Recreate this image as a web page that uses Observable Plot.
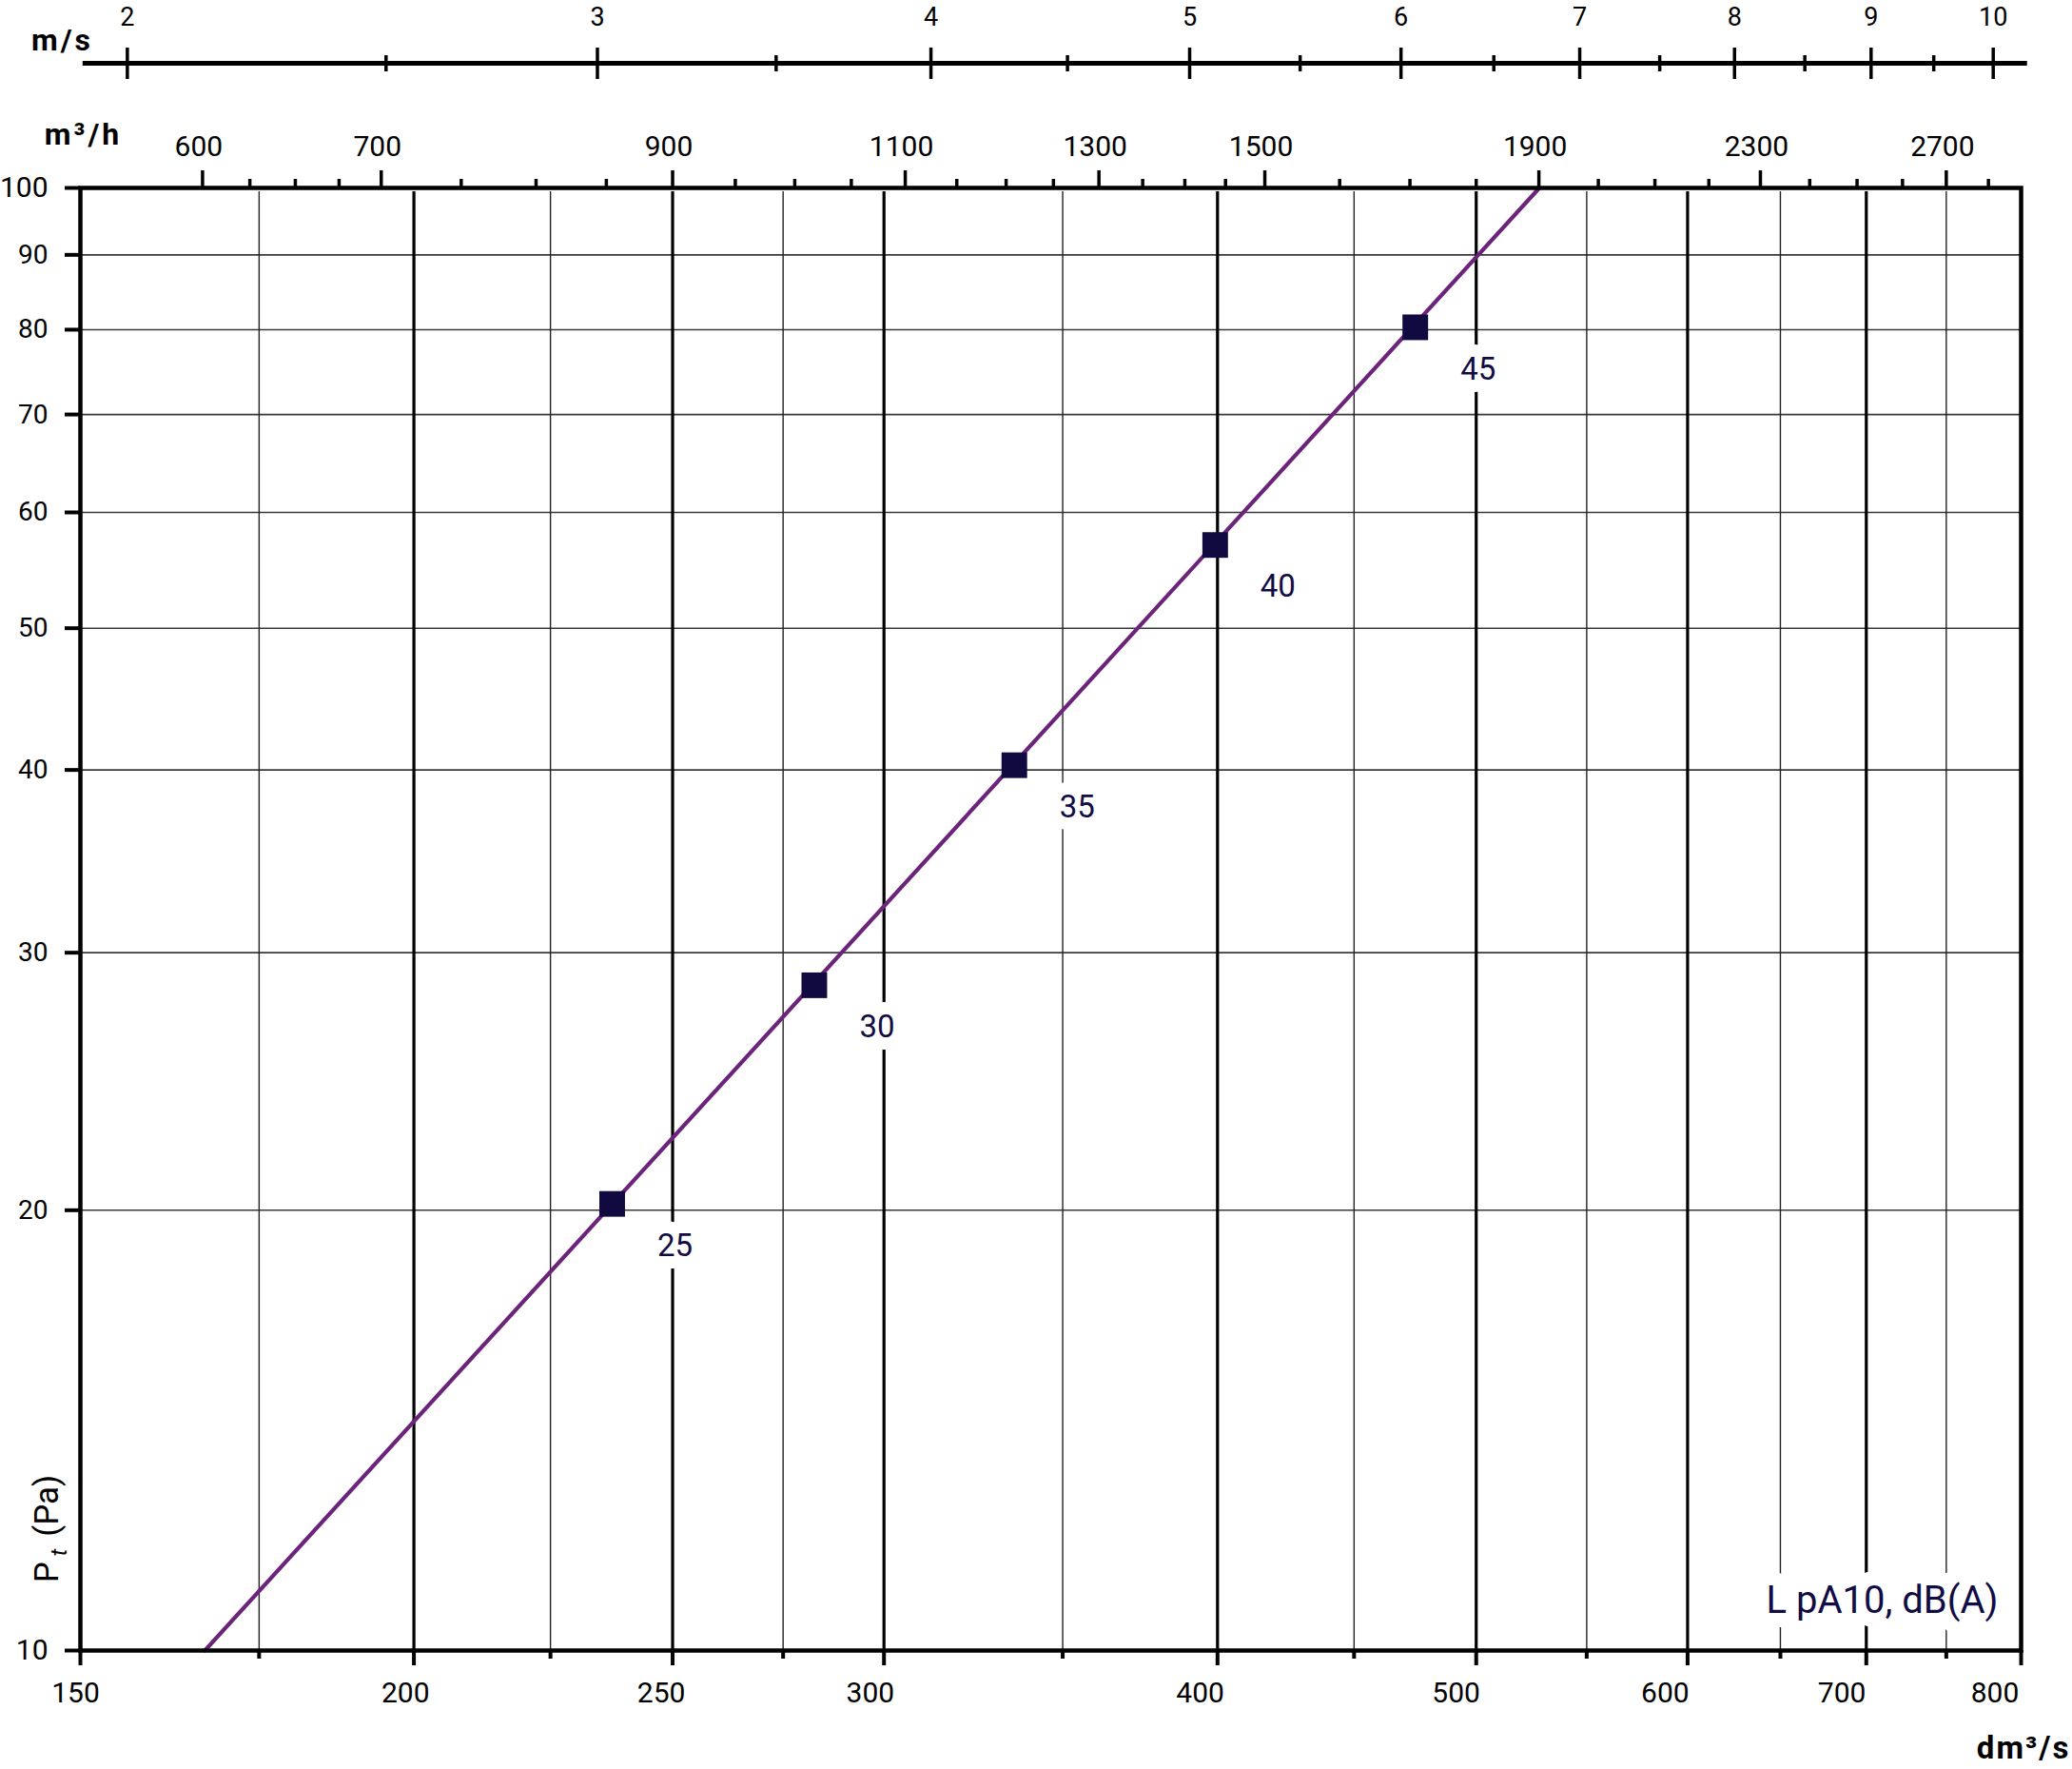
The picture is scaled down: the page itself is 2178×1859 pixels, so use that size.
<!DOCTYPE html>
<html><head><meta charset="utf-8">
<script src="https://cdn.jsdelivr.net/npm/d3@7"></script>
<script src="https://cdn.jsdelivr.net/npm/@observablehq/plot@0.6"></script>
<style>
html,body{margin:0;padding:0;background:#fff;}
#chart svg{display:block;}
</style></head><body><div id="chart"></div>
<script>
// ---- data ----
const flowTickLabels = [150, 200, 250, 300, 400, 500, 600, 700, 800];      // dm3/s
const flowThickGrid = [200, 250, 300, 400, 500, 600, 700];
const flowThinGrid = [175, 225, 275, 350, 450, 550, 650, 750];
const pressureTicks = [10, 20, 30, 40, 50, 60, 70, 80, 90, 100];          // Pa
const pressureGrid = [20, 30, 40, 50, 60, 70, 80, 90];
const velocityMajor = [2, 3, 4, 5, 6, 7, 8, 9, 10];                        // m/s
const velocityMinor = [2.5, 3.5, 4.5, 5.5, 6.5, 7.5, 8.5, 9.5];
const velocityExtent = [1.925, 10.3];
const flowPerVelocity = 78.1;                                              // dm3/s per m/s
const m3hMajor = [600, 700, 900, 1100, 1300, 1500, 1900, 2300, 2700];      // m3/h
const m3hMinor = [625, 650, 675, 750, 800, 850, 950, 1000, 1050, 1150, 1200, 1250,
                  1350, 1400, 1450, 1600, 1700, 1800, 2000, 2100, 2200, 2400, 2500, 2600, 2800];
const curveFlow = [167, 528];
const curvePressure = [10, 100];
const pointFlow = [237.3, 282.5, 335.7, 399.2, 474.4];
const pointPressure = [20.2, 28.5, 40.3, 57.0, 80.3];
const pointSound = ["25", "30", "35", "40", "45"];

// ---- layout ----
const W = 2178, H = 1859;
const mL = 84, mR = 54, mT = 197, mB = 125;
const PH = H - mT - mB, PW = W - mL - mR;
const NAVY = "#120c45", PURPLE = "#6b2479";
const C = {textAnchor: "middle", lineAnchor: "middle", fill: "black"};
// the reference prints its bottom labels on a slightly compressed copy of the log scale
const labelPos = d => 150 * Math.pow(d / 150, 0.989) * Math.pow(10, -5 / 2805);

const curve = curveFlow.map((f, i) => ({f, p: curvePressure[i]}));
const pts = pointFlow.map((f, i) => ({f, p: pointPressure[i], s: pointSound[i]}));

const chart = Plot.plot({
  width: W, height: H,
  marginLeft: mL, marginRight: mR, marginTop: mT, marginBottom: mB,
  x: {type: "log", domain: [150, 800], axis: null},
  y: {type: "log", domain: [10, 100], axis: null},
  style: {fontFamily: "Roboto, 'Noto Sans', sans-serif", background: "white", color: "black"},
  marks: [
    // grid
    Plot.ruleY(pressureGrid, {y: d => d, stroke: "#3a3a3a", strokeWidth: 1.6}),
    Plot.ruleX(flowThinGrid, {x: d => d, stroke: "#222", strokeWidth: 1.4, insetTop: 4}),
    Plot.ruleX(flowThickGrid, {x: d => d, stroke: "#000", strokeWidth: 3.2, insetTop: 4}),
    // point labels with white boxes
    Plot.text(pts, {x: "f", y: "p", text: "s", dx: 66, dy: 44, ...C, fill: NAVY, stroke: "white",
      strokeWidth: 26, paintOrder: "stroke", fontSize: 33}),
    Plot.text(["L pA10, dB(A)"], {text: d => d, frameAnchor: "bottom-right", ...C, textAnchor: "end",
      dx: -24, dy: -52, fontSize: 40, fill: NAVY, stroke: "white", strokeWidth: 30, paintOrder: "stroke"}),
    // curve and points
    Plot.line(curve, {x: "f", y: "p", stroke: PURPLE, strokeWidth: 4.2}),
    Plot.dot(pts, {x: "f", y: "p", symbol: "square", r: 15.2, fill: "#100a40", stroke: null}),
    // frame
    Plot.frame({stroke: "black", strokeWidth: 4.5}),
    // y axis
    Plot.tickY(pressureTicks, {y: d => d, insetRight: PW - 16, dx: -16, strokeWidth: 4, stroke: "black"}),
    Plot.text(pressureTicks, {y: d => d, text: d => String(d), frameAnchor: "left", ...C, dx: -34,
      textAnchor: "end", fontSize: d => (d === 10 || d === 100) ? 30 : 28}),
    // bottom axis
    Plot.tickX(flowTickLabels, {x: d => d, insetTop: PH - 16, dy: 16, strokeWidth: 4, stroke: "black"}),
    Plot.tickX(flowThinGrid, {x: d => d, insetTop: PH - 9, dy: 9, strokeWidth: 4, stroke: "black"}),
    Plot.text(flowTickLabels, {x: labelPos, text: d => String(d), frameAnchor: "bottom", ...C, dy: 45,
      fontSize: 30}),
    // m3/h axis (on frame top)
    Plot.tickX(m3hMajor, {x: d => d / 3.6, insetBottom: PH - 18, dy: -18, strokeWidth: 3.5, stroke: "black"}),
    Plot.tickX(m3hMinor, {x: d => d / 3.6, insetBottom: PH - 9, dy: -9, strokeWidth: 3.5, stroke: "black"}),
    Plot.text(m3hMajor, {x: d => d / 3.6, text: d => String(d), frameAnchor: "top", ...C, dy: -43, dx: -4,
      fontSize: 30}),
    // m/s axis
    Plot.rect([0], {x1: () => velocityExtent[0] * flowPerVelocity, x2: () => velocityExtent[1] * flowPerVelocity,
      insetBottom: PH - 5, dy: -(mT - 64), fill: "black"}),
    Plot.tickX(velocityMajor, {x: d => d * flowPerVelocity, insetBottom: PH - 33, dy: -(mT - 50), strokeWidth: 3.5, stroke: "black"}),
    Plot.tickX(velocityMinor, {x: d => d * flowPerVelocity, insetBottom: PH - 17, dy: -(mT - 58), strokeWidth: 3.5, stroke: "black"}),
    Plot.text(velocityMajor, {x: d => d * flowPerVelocity, text: d => String(d), frameAnchor: "top", ...C,
      dy: -(mT - 18), fontSize: 27}),
    // axis titles
    Plot.text(["m/s"], {text: d => d, frameAnchor: "top-left", ...C, dx: -19, dy: -155, fontSize: 32,
      fontWeight: "bold"}),
    Plot.text(["m³/h"], {text: d => d, frameAnchor: "top-left", ...C, dx: 3, dy: -56, fontSize: 32,
      fontWeight: "bold"}),
    Plot.text(["dm³/s"], {text: d => d, frameAnchor: "bottom-right", ...C, textAnchor: "end", dx: 52, dy: 103,
      fontSize: 33, fontWeight: "bold"}),
    Plot.text(["Pt (Pa)"], {text: d => d, frameAnchor: "bottom-left", ...C, rotate: -90, dx: -35, dy: -128,
      fontSize: 35})
  ]
});
document.getElementById("chart").appendChild(chart);

// post-styling: wide titles, P with italic subscript t
const ns = "http://www.w3.org/2000/svg";
chart.querySelectorAll("text").forEach(t => {
  const s = t.textContent;
  if (s === "m/s" || s === "m³/h") t.style.letterSpacing = "3px";
  else if (s === "dm³/s") t.style.letterSpacing = "2px";
  else if (s === "Pt (Pa)") {
    t.textContent = "";
    const a = document.createElementNS(ns, "tspan"); a.textContent = "P";
    const b = document.createElementNS(ns, "tspan"); b.textContent = "t";
    b.setAttribute("font-style", "italic"); b.setAttribute("font-size", "24");
    b.setAttribute("dy", "9"); b.setAttribute("dx", "6");
    const c = document.createElementNS(ns, "tspan"); c.textContent = "\u00a0(Pa)";
    c.setAttribute("dy", "-9"); c.setAttribute("dx", "4");
    t.append(a, b, c);
  }
});
</script></body></html>
